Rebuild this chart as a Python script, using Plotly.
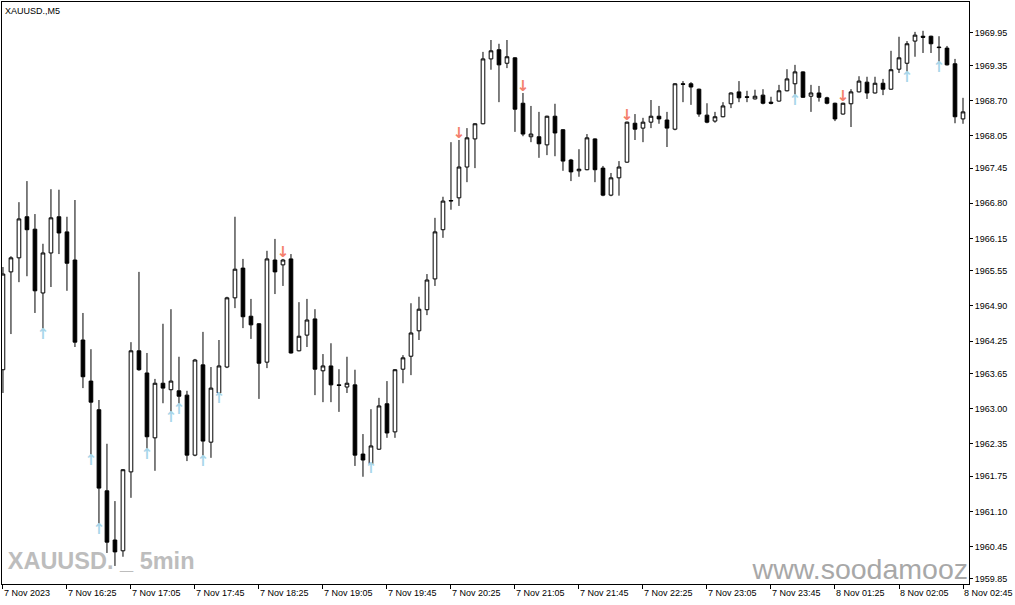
import plotly.graph_objects as go

symbol_title = "XAUUSD.,M5"

open_ = [1963.72,1965.53,1965.79,1966.55,1966.32,1965.14,1965.88,1966.55,1966.27,1965.75,
         1964.27,1963.51,1962.98,1961.48,1960.57,1960.37,1961.83,1964.07,1963.66,1962.46,
         1963.47,1963.35,1963.33,1963.25,1962.14,1963.81,1962.38,1963.29,1963.77,1965.05,
         1965.60,1964.71,1964.57,1963.86,1965.75,1965.66,1965.77,1964.07,1964.36,1964.66,
         1963.70,1963.79,1963.44,1963.40,1963.44,1962.16,1961.98,1962.25,1963.09,1962.57,
         1963.73,1963.97,1964.44,1964.83,1965.40,1966.31,1966.84,1966.90,1967.47,1967.99,
         1968.27,1969.47,1969.64,1969.39,1969.49,1968.65,1968.03,1968.03,1967.88,1968.41,
         1968.16,1967.60,1967.40,1967.42,1967.99,1967.45,1966.95,1967.27,1967.56,1968.28,
         1968.19,1968.30,1968.41,1968.34,1968.17,1969.01,1969.01,1968.91,1968.43,1968.32,
         1968.40,1968.64,1968.86,1968.77,1968.73,1968.80,1968.67,1968.69,1968.88,1969.01,
         1969.23,1968.78,1968.84,1968.75,1968.65,1968.45,1968.64,1968.86,1969.04,1968.84,
         1969.02,1968.91,1969.28,1969.39,1969.80,1969.89,1969.89,1969.69,1969.67,1969.38,
         1968.36]
high = [1965.62,1965.82,1966.82,1967.21,1966.60,1966.05,1967.06,1967.05,1966.55,1966.86,
        1964.77,1964.10,1963.16,1962.35,1961.29,1961.88,1964.23,1965.53,1964.03,1963.55,
        1964.57,1964.84,1963.96,1963.33,1963.92,1964.42,1963.77,1964.27,1965.07,1966.55,
        1965.77,1965.03,1964.58,1965.92,1966.14,1965.77,1965.86,1964.97,1965.03,1964.84,
        1964.01,1964.21,1963.73,1963.96,1963.72,1962.53,1962.99,1963.20,1963.51,1963.73,
        1963.99,1964.95,1965.07,1965.49,1966.53,1966.92,1967.93,1967.97,1968.19,1968.28,
        1969.60,1969.82,1969.75,1969.82,1969.50,1968.84,1968.60,1968.49,1968.42,1968.64,
        1968.17,1967.62,1967.80,1968.08,1968.00,1967.49,1967.36,1967.58,1968.31,1968.45,
        1968.38,1968.71,1968.60,1968.49,1969.02,1969.06,1969.04,1968.92,1968.65,1968.49,
        1968.67,1968.85,1969.06,1968.88,1968.90,1968.91,1968.77,1968.99,1969.28,1969.36,
        1969.24,1968.99,1968.97,1968.77,1968.66,1968.66,1968.91,1969.15,1969.14,1969.14,
        1969.10,1969.62,1969.88,1969.80,1969.97,1969.99,1969.90,1969.89,1969.71,1969.47,
        1968.75]
low = [1963.29,1964.38,1965.34,1965.45,1964.77,1964.46,1965.25,1965.86,1965.18,1964.14,
       1963.38,1962.12,1960.85,1960.33,1960.09,1960.26,1961.35,1963.70,1962.24,1961.85,
       1963.10,1962.92,1963.07,1962.03,1962.12,1962.11,1962.09,1963.27,1963.75,1964.86,
       1964.49,1964.29,1963.18,1963.75,1965.12,1965.27,1964.02,1964.06,1964.14,1963.25,
       1963.12,1963.12,1962.94,1963.29,1961.94,1961.74,1961.97,1962.24,1962.46,1962.46,
       1963.47,1963.62,1964.27,1964.73,1965.27,1966.16,1966.68,1966.75,1967.19,1967.45,
       1968.26,1969.27,1968.67,1969.30,1968.12,1968.04,1967.93,1967.64,1967.69,1967.67,
       1967.40,1967.21,1967.29,1967.41,1967.19,1966.93,1966.93,1966.94,1967.55,1967.97,
       1967.93,1968.19,1968.27,1967.84,1968.15,1968.67,1968.62,1968.40,1968.28,1968.29,
       1968.39,1968.56,1968.67,1968.67,1968.72,1968.63,1968.63,1968.68,1968.87,1968.78,
       1968.75,1968.49,1968.68,1968.63,1968.32,1968.44,1968.21,1968.85,1968.73,1968.83,
       1968.80,1968.90,1969.21,1969.21,1969.51,1969.58,1969.58,1969.39,1969.35,1968.28,
       1968.27]
close = [1965.49,1965.79,1966.51,1966.31,1965.18,1965.88,1966.53,1966.25,1965.69,1964.23,
         1963.59,1963.12,1961.53,1960.53,1960.35,1961.87,1964.07,1963.72,1962.48,1963.47,
         1963.38,1963.51,1963.23,1962.14,1963.90,1962.40,1963.38,1963.79,1965.05,1965.58,
         1964.70,1964.55,1963.84,1965.77,1965.53,1965.75,1964.03,1964.34,1964.64,1963.73,
         1963.79,1963.44,1963.43,1963.47,1962.14,1962.05,1962.31,1963.05,1962.55,1963.72,
         1963.94,1964.40,1964.84,1965.38,1966.27,1966.84,1966.85,1967.47,1968.01,1968.27,
         1969.47,1969.62,1969.36,1969.51,1968.54,1968.08,1968.08,1967.90,1968.41,1968.10,
         1967.58,1967.38,1967.43,1968.01,1967.42,1966.95,1967.27,1967.47,1968.30,1968.17,
         1968.30,1968.41,1968.36,1968.19,1969.01,1969.00,1968.95,1968.45,1968.30,1968.40,
         1968.60,1968.84,1968.75,1968.76,1968.78,1968.65,1968.65,1968.88,1969.10,1969.23,
         1968.76,1968.84,1968.76,1968.65,1968.36,1968.65,1968.86,1969.06,1968.84,1969.02,
         1968.91,1969.27,1969.49,1969.75,1969.91,1969.87,1969.75,1969.68,1969.36,1968.40,
         1968.49]

# bars carrying signal arrows
up_arrow_bars = [5, 11, 12, 18, 21, 22, 25, 27, 46, 99, 113, 117]
down_arrow_bars = [35, 57, 65, 78, 105]

x_tick_labels = ["7 Nov 2023", "7 Nov 16:25", "7 Nov 17:05", "7 Nov 17:45", "7 Nov 18:25",
                 "7 Nov 19:05", "7 Nov 19:45", "7 Nov 20:25", "7 Nov 21:05", "7 Nov 21:45",
                 "7 Nov 22:25", "7 Nov 23:05", "7 Nov 23:45", "8 Nov 01:25", "8 Nov 02:05",
                 "8 Nov 02:45"]
y_tick_values = [1969.95, 1969.35, 1968.70, 1968.05, 1967.45, 1966.80, 1966.15, 1965.55,
                 1964.90, 1964.25, 1963.65, 1963.00, 1962.35, 1961.75, 1961.10, 1960.45, 1959.85]

n = len(open_)
xs = list(range(n))
label_step = 8
tick_pos = list(range(0, n, label_step))

FONT = "Liberation Sans, Arial, sans-serif"

fig = go.Figure()

fig.add_trace(go.Candlestick(
    x=xs, open=open_, high=high, low=low, close=close,
    increasing=dict(line=dict(color="black", width=1), fillcolor="white"),
    decreasing=dict(line=dict(color="black", width=1), fillcolor="black"),
    whiskerwidth=0, showlegend=False, hoverinfo="skip",
))

arrow_off = 0.1
fig.add_trace(go.Scatter(
    x=up_arrow_bars, y=[low[i] - arrow_off for i in up_arrow_bars],
    mode="text", text=["↑"] * len(up_arrow_bars),
    textfont=dict(family="DejaVu Sans", size=15, color="#a9d6ea", weight="bold"),
    textposition="middle center", showlegend=False, hoverinfo="skip",
))
fig.add_trace(go.Scatter(
    x=down_arrow_bars, y=[high[i] + arrow_off for i in down_arrow_bars],
    mode="text", text=["↓"] * len(down_arrow_bars),
    textfont=dict(family="DejaVu Sans", size=15, color="#f4806c", weight="bold"),
    textposition="middle center", showlegend=False, hoverinfo="skip",
))

# watermarks (clipped to the plot area)
fig.add_trace(go.Scatter(
    x=[0.6], y=[1960.14], mode="text", text=["XAUUSD. _ 5min"],
    textposition="middle right", cliponaxis=True,
    textfont=dict(family="Liberation Sans, Arial, sans-serif",
                  size=23.5, color="#bdbdbd", weight="bold"),
    showlegend=False, hoverinfo="skip",
))
fig.add_trace(go.Scatter(
    x=[93.7], y=[1959.98], mode="text", text=["www.soodamooz.com"],
    textposition="middle right", cliponaxis=True,
    textfont=dict(family=FONT, size=28.5, color="#a8a8a8"),
    showlegend=False, hoverinfo="skip",
))

x_min, x_max = -0.12, 120.75
fig.update_xaxes(
    range=[x_min, x_max], rangeslider=dict(visible=False),
    showgrid=False, zeroline=False,
    showline=True, linecolor="black", linewidth=1, mirror=True,
    ticks="outside", ticklen=4, tickcolor="black", tickwidth=1,
    tickvals=tick_pos, showticklabels=False,
)
fig.update_yaxes(
    range=[1959.756, 1970.523], side="right",
    showgrid=False, zeroline=False,
    showline=True, linecolor="black", linewidth=1, mirror=True,
    ticks="outside", ticklen=3, tickcolor="black", tickwidth=1,
    tickvals=y_tick_values, ticktext=[f"{v:.2f}" for v in y_tick_values],
    tickfont=dict(family=FONT, size=9, color="black"),
)

annotations = [dict(
    x=p, y=0, xref="x", yref="paper", text=t, showarrow=False,
    xanchor="left", yanchor="top", yshift=-2, xshift=-1,
    font=dict(family=FONT, size=9, color="black"),
) for p, t in zip(tick_pos, x_tick_labels)]
annotations.append(dict(
    x=0, y=1, xref="paper", yref="paper", text=symbol_title, showarrow=False,
    xanchor="left", yanchor="top", xshift=1, yshift=-2,
    font=dict(family=FONT, size=9, color="black"),
))

fig.update_layout(
    width=1015, height=605,
    margin=dict(l=2, r=46, t=2, b=21),
    paper_bgcolor="white", plot_bgcolor="white",
    boxgap=0.35,
    annotations=annotations,
    hovermode=False,
)

fig.write_html("out.html", config={"displayModeBar": False},
               post_script="document.body.style.margin='0';")
